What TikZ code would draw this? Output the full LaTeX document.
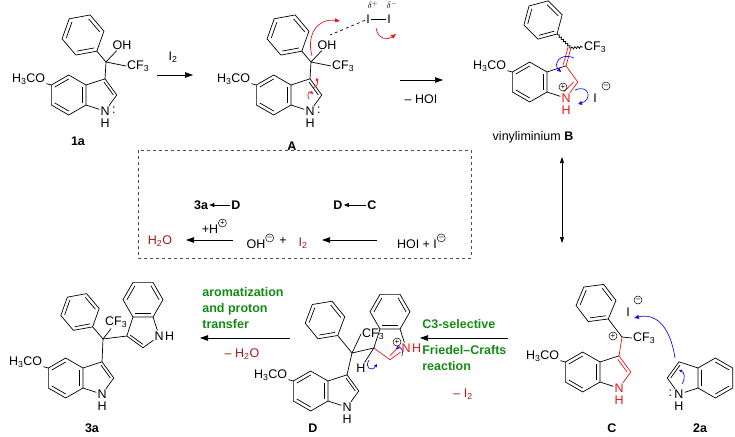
\documentclass[tikz,border=0pt]{standalone}
\usepackage{fontspec}
\setmainfont{Liberation Sans}
\usetikzlibrary{calc,arrows.meta,decorations.pathmorphing}
\definecolor{cred}{RGB}{235,20,20}
\definecolor{dred}{RGB}{165,25,25}
\definecolor{cgreen}{RGB}{20,140,20}
\definecolor{cblue}{RGB}{20,20,235}
\tikzset{
 lbl/.style={inner sep=0.8pt,font=\fontsize{12.5}{14}\selectfont},
 lab/.style={inner sep=1pt,font=\fontsize{12.5}{14}\selectfont\bfseries},
 gtxt/.style={inner sep=1pt,font=\fontsize{12.5}{16}\selectfont\bfseries,text=cgreen,align=left},
 rarr/.style={-{Triangle[length=8pt,width=5.5pt]},line width=0.7pt},
 sarr/.style={-{Triangle[length=5pt,width=4pt]},line width=0.7pt},
 chg/.style={draw,circle,inner sep=0pt,minimum size=8pt,line width=0.5pt,font=\fontsize{8}{8}\selectfont},
 every path/.style={line width=0.7pt}
}
\newcommand{\dbin}[3]{\draw ($(#1)!.2!(#3)$)--($(#2)!.2!(#3)$);}
\newcommand{\indcore}[1]{%
 \coordinate (#1a) at (0,-10); \coordinate (#1b) at (-17.32,-20);
 \coordinate (#1c) at (-34.64,-10); \coordinate (#1d) at (-34.64,10);
 \coordinate (#1e) at (-17.32,20); \coordinate (#1f) at (0,10);
 \coordinate (#1g) at (19.02,-16.18); \coordinate (#1h) at (30.78,0);
 \coordinate (#1n) at (19.02,16.18); \coordinate (#1hc) at (-17.32,0);
 \coordinate (#1pc) at (13.76,0);
 \draw (#1a)--(#1b)--(#1c)--(#1d)--(#1e)--(#1f)--cycle;
 \dbin{#1b}{#1c}{#1hc}\dbin{#1d}{#1e}{#1hc}\dbin{#1f}{#1a}{#1hc}}
\newcommand{\pyr}[1]{\draw (#1a)--(#1g)--(#1h)--(#1N)--(#1f); \dbin{#1g}{#1h}{#1pc}}
\newcommand{\phenyl}[3]{% prefix, ipso, centre
 \coordinate (#1p1) at (#2);
 \coordinate (#1p2) at ($(#3)!1!60:(#2)$); \coordinate (#1p3) at ($(#3)!1!120:(#2)$);
 \coordinate (#1p4) at ($(#3)!1!180:(#2)$); \coordinate (#1p5) at ($(#3)!1!240:(#2)$);
 \coordinate (#1p6) at ($(#3)!1!300:(#2)$);
 \draw (#1p1)--(#1p2)--(#1p3)--(#1p4)--(#1p5)--(#1p6)--cycle;
 \dbin{#1p2}{#1p3}{#3}\dbin{#1p4}{#1p5}{#3}\dbin{#1p6}{#1p1}{#3}}
\newcommand{\meo}[1]{\node[lbl,anchor=east] (#1me) at ($(#1c)+(-5,-6)$) {H\textsubscript{3}CO}; \draw (#1c)--(#1me);}
\newcommand{\alcohol}[1]{%
 \begin{scope}[shift={(86,95)}]\indcore{#1}\end{scope}
 \node[lbl] (#1N) at (#1n) {N};
 \node[lbl] at ($(#1n)+(0,12)$) {H};
 \node[lbl,anchor=west,inner sep=0pt] at ($(#1N.east)+(1,-1)$) {:};
 \pyr{#1}\meo{#1}
 \coordinate (#1q) at (106,62); \coordinate (#1phc) at (83,35);
 \coordinate (#1ip) at ($(#1q)!0.4!(#1phc)$);
 \phenyl{#1}{#1ip}{#1phc}
 \draw (#1g)--(#1q)--(#1ip);
 \node[lbl] (#1oh) at (122,45) {OH};
 \node[lbl,anchor=west] (#1cf) at (126,66) {CF\textsubscript{3}};
 \draw (#1q)--(#1oh) (#1q)--(#1cf.west);}
\begin{document}
\begin{tikzpicture}[x=1pt,y=-1pt]
\useasboundingbox (0,0) rectangle (735,436);
% 1a and A
\alcohol{Q}
\node[lab] at (78,141) {1a};
\draw[rarr] (157,75) -- (193,75);
\node[lbl] at (173,57) {I\textsubscript{2}};
\begin{scope}[shift={(205,0)}]\alcohol{R}\end{scope}
\node[lab] at (292,146) {A};
\node[lbl] (i1) at (368,19) {I};
\node[lbl] (i2) at (389,19) {I};
\draw (i1)--(i2);
\draw[dashed] (i1) -- (330,35);
\node[lbl,font=\fontsize{9}{9}\selectfont] at (373,5) {$\delta^{+}$};
\node[lbl,font=\fontsize{9}{9}\selectfont] at (392,5) {$\delta^{-}$};
\draw[cred,-{Triangle[length=5pt,width=4pt]}] (312,56) .. controls (306,34) and (318,18) .. (340,21);
\draw[cred,-{Triangle[length=5pt,width=4pt]}] (376,28) .. controls (378,40) and (388,40) .. (396,34);
\draw[cred,-{Triangle[length=3pt,width=3pt]}] (309,99) .. controls (306,93) and (310,91) .. (313,94);
\draw[cred,-{Triangle[length=3pt,width=3pt]}] (313,88) .. controls (318,86) and (318,82) .. (316,78);
% A -> B
\draw[rarr] (400,80) -- (443,80);
\node[lbl] at (421,99) {-- HOI};
% B
\begin{scope}[shift={(547,82)}]\indcore{S}\end{scope}
\node[lbl,text=cred] (SN) at (Sn) {N};
\node[lbl,text=cred] at ($(Sn)+(0,12)$) {H};
\draw (Sa)--(Sg) (SN)--(Sf);
\draw[cred] (Sg)--(Sh)--(SN);
\draw[cred] ($(Sh)!.25!(Spc)$)--($(Sn)!.4!(Spc)$);
\meo{S}
\coordinate (Sal) at (571,48); \coordinate (Sphc) at (543,20);
\coordinate (Sip) at ($(Sal)!0.5!(Sphc)$);
\phenyl{S}{Sip}{Sphc}
\draw[cred] (Sg)--(Sal);
\draw[cred] ($(Sg)!3pt!90:(Sal)$)--($(Sal)!3pt!-90:(Sg)$);
\node[lbl,anchor=west] (Scf) at (583,47) {CF\textsubscript{3}};
\draw[decorate,decoration={snake,amplitude=1pt,segment length=3pt}] (Sal)--(Sip);
\draw[decorate,decoration={snake,amplitude=1pt,segment length=3pt}] (Sal)--(Scf.west);
\node[chg] at (563,87) {+};
\node[lbl] at (595,98) {I};
\node[chg] at (606,86) {--};
\draw[cblue,-{Triangle[length=4pt,width=4pt]}] (574,58) .. controls (560,52) and (553,64) .. (561,72);
\draw[cblue,-{Triangle[length=4pt,width=4pt]}] (575,90) .. controls (590,84) and (592,100) .. (578,104);
\node[lbl] at (533,137) {vinyliminium \textbf{B}};
\draw[{Triangle[length=6pt,width=4pt]}-{Triangle[length=6pt,width=4pt]}] (562,157) -- (562,243);
% box
\draw[dashed,gray!60!black,line width=0.8pt] (138,150) rectangle (471,258);
\node[lab] (b3a) at (201,205) {3a};
\node[lab] (bD1) at (236,205) {D};
\draw[sarr] (bD1) -- (b3a);
\node[lab] (bD2) at (338,205) {D};
\node[lab] (bC) at (372,205) {C};
\draw[sarr] (bC) -- (bD2);
\node[lbl,text=dred] (h2o) at (160,241) {H\textsubscript{2}O};
\node[lbl] (oh) at (256,241) {OH\rlap{\raisebox{6pt}{\tikz\node[chg]{--};}}};
\node[lbl] at (283,241) {+};
\node[lbl,text=dred] (bi2) at (303,243) {I\textsubscript{2}};
\node[lbl] (hoi) at (417,241) {HOI + I\rlap{\raisebox{6pt}{\tikz\node[chg]{--};}}};
\draw[rarr] (233,240) -- (186,240);
\node[lbl] at (210,226) {+H\rlap{\raisebox{6pt}{\tikz\node[chg]{+};}}};
\draw[rarr] (377,240) -- (322,240);
% C
\begin{scope}[shift={(600,372)}]\indcore{T}\end{scope}
\node[lbl,text=cred] (TN) at (Tn) {N};
\node[lbl,text=cred] at ($(Tn)+(0,12)$) {H};
\draw (Ta)--(Tg) (TN)--(Tf);
\draw[cred] (Tg)--(Th)--(TN);
\draw[cred] ($(Tg)!.22!(Tpc)$)--($(Th)!.22!(Tpc)$);
\meo{T}
\coordinate (Tq) at (622,337); \coordinate (Tphc) at (596,303);
\coordinate (Tip) at ($(Tq)!0.53!(Tphc)$);
\phenyl{T}{Tip}{Tphc}
\draw[cred] (Tg)--(Tq);
\draw (Tq)--(Tip);
\node[lbl,anchor=west] (Tcf) at (632,338) {CF\textsubscript{3}};
\draw (Tq)--(Tcf.west);
\node[chg] at (613,336) {+};
\node[lbl] at (628,312) {I};
\node[chg] at (638,300) {--};
\node[lab] at (612,428) {C};
% 2a
\begin{scope}[shift={(698,378)},x={(-1pt,0pt)},y={(0pt,-1pt)}]\indcore{U}\end{scope}
\node[lbl] (UN) at (Un) {N};
\node[lbl] at ($(Un)+(0,12)$) {H};
\node[lbl,anchor=east,inner sep=0pt] at ($(UN.west)+(-1,-1)$) {:};
\pyr{U}
\node[lab] at (700,428) {2a};
\draw[cblue,-{Triangle[length=5pt,width=4pt]}] (675,358) .. controls (670,325) and (655,313) .. (634,318);
\draw[cblue,-{Triangle[length=3pt,width=3pt]}] (682,384) .. controls (686,378) and (684,372) .. (679,370);
% C -> D
\draw[rarr] (508,338) -- (420,338);
\node[gtxt,anchor=west] at (421,324) {C3-selective};
\node[gtxt,anchor=west] at (421,358) {Friedel--Crafts\\reaction};
\node[lbl,text=dred] at (463,394) {-- I\textsubscript{2}};
% D
\begin{scope}[shift={(328,391)}]\indcore{V}\end{scope}
\node[lbl] (VN) at (Vn) {N};
\node[lbl] at ($(Vn)+(0,12)$) {H};
\pyr{V}\meo{V}
\coordinate (Vq) at (352,353); \coordinate (Vphc) at (325,320);
\coordinate (Vip) at ($(Vq)!0.53!(Vphc)$);
\phenyl{V}{Vip}{Vphc}
\draw (Vg)--(Vq)--(Vip);
\node[lbl,anchor=west] (Vcf) at (361,334) {CF\textsubscript{3}};
\draw (Vq)--(Vcf.west);
\begin{scope}[shift={(390,329)},x={(0pt,-1pt)},y={(1pt,0pt)}]\indcore{W}\end{scope}
\node[lbl,text=cred] (WN) at (Wn) {N};
\node[lbl,text=cred,anchor=west,inner sep=0pt] at (WN.east) {H};
\draw (Wa)--(Wg) (WN)--(Wf);
\draw[cred] (Wg)--(Wh)--(WN);
\draw[cred] ($(Wh)!.25!(Wpc)$)--($(Wn)!.4!(Wpc)$);
\draw (Vq)--(Wg);
\node[lbl] (WH) at (361,368) {H};
\draw (Wg)--(WH);
\node[chg] at (397,342) {+};
\draw[cblue,-{Triangle[length=3pt,width=3pt]}] (369,360) .. controls (364,368) and (372,372) .. (377,364);
\draw[cblue,-{Triangle[length=3pt,width=3pt]}] (402,356) .. controls (404,350) and (400,346) .. (396,349);
\node[lab] at (313,428) {D};
% D -> 3a
\draw[rarr] (290,338) -- (200,338);
\node[gtxt,anchor=west] at (201,308) {aromatization\\and proton\\transfer};
\node[lbl,text=dred] at (242,354) {-- H\textsubscript{2}O};
% 3a
\begin{scope}[shift={(83,378)}]\indcore{X}\end{scope}
\node[lbl] (XN) at (Xn) {N};
\node[lbl] at ($(Xn)+(0,12)$) {H};
\pyr{X}\meo{X}
\coordinate (Xq) at (103,339); \coordinate (Xphc) at (80,312);
\coordinate (Xip) at ($(Xq)!0.45!(Xphc)$);
\phenyl{X}{Xip}{Xphc}
\draw (Xg)--(Xq)--(Xip);
\node[lbl,anchor=west] (Xcf) at (104,322) {CF\textsubscript{3}};
\draw (Xq)--(Xcf);
\begin{scope}[shift={(143,317)},x={(0pt,-1pt)},y={(1pt,0pt)}]\indcore{Y}\end{scope}
\node[lbl] (YN) at (Yn) {N};
\node[lbl,anchor=west,inner sep=0pt] at (YN.east) {H};
\pyr{Y}
\draw (Xq)--(Yg);
\node[lab] at (92,428) {3a};
\end{tikzpicture}
\end{document}
